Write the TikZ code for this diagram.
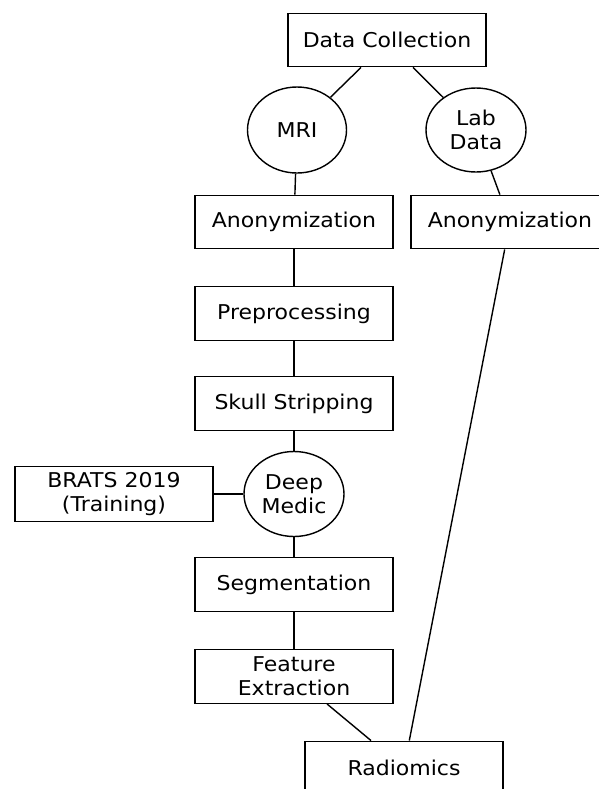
\documentclass[tikz,border=0pt]{standalone}
\usepackage{fontspec}
\setmainfont{DejaVu Sans}[FakeStretch=1.08]
\usetikzlibrary{shapes.geometric}

\begin{document}
\begin{tikzpicture}[
	box/.style={draw, rectangle, minimum width=3.96cm, minimum height=1.07cm, align=center},
	bubble/.style={draw, ellipse, minimum width=1.98cm, minimum height=1.72cm, inner sep=0pt, align=center},
	every node/.style={font=\fontsize{11.6}{13.6}\selectfont, line width=0.8pt},
	every edge/.style={draw, line width=0.8pt}
	]
			\useasboundingbox (0,0) rectangle (11.98,-15.78);
			\clip (0,0) rectangle (11.98,-15.78);
			\node (dc) [box] at (7.74,-0.80) {Data Collection};
			\node (mri) [bubble] at (5.94,-2.60) {MRI};
			\node (lab) [bubble, minimum width=2.0cm, minimum height=1.68cm] at (9.52,-2.60) {Lab\\Data};
			\node (anonl) [box] at (5.88,-4.44) {Anonymization};
			\node (anonr) [box] at (10.20,-4.44) {Anonymization};
			\node (prep) [box] at (5.88,-6.27) {Preprocessing};
			\node (skull) [box] at (5.88,-8.07) {Skull Stripping};
			\node (dm) [bubble, minimum width=2.0cm, minimum height=1.70cm] at (5.88,-9.88) {Deep\\Medic};
			\node (brats) [box] at (2.28,-9.88) {BRATS 2019\\(Training)};
			\node (seg) [box] at (5.88,-11.69) {Segmentation};
			\node (fe) [box] at (5.88,-13.53) {Feature\\Extraction};
			\node (rad) [box] at (8.08,-15.36) {Radiomics};
			
			\path ([xshift=-0.52cm]dc.south) edge (mri);
			\path ([xshift=0.52cm]dc.south) edge (lab);
			\path (mri) edge (anonl);
			\path (lab) edge (anonr);
			\path (anonl) edge (prep);
			\path (prep) edge (skull);
			\path (skull) edge (dm);
			\path (brats) edge (dm);
			\path (dm) edge (seg);
			\path (seg) edge (fe);
			\path (fe) edge (rad);
			\path (anonr) edge (rad);
			\end{tikzpicture}
\end{document}
